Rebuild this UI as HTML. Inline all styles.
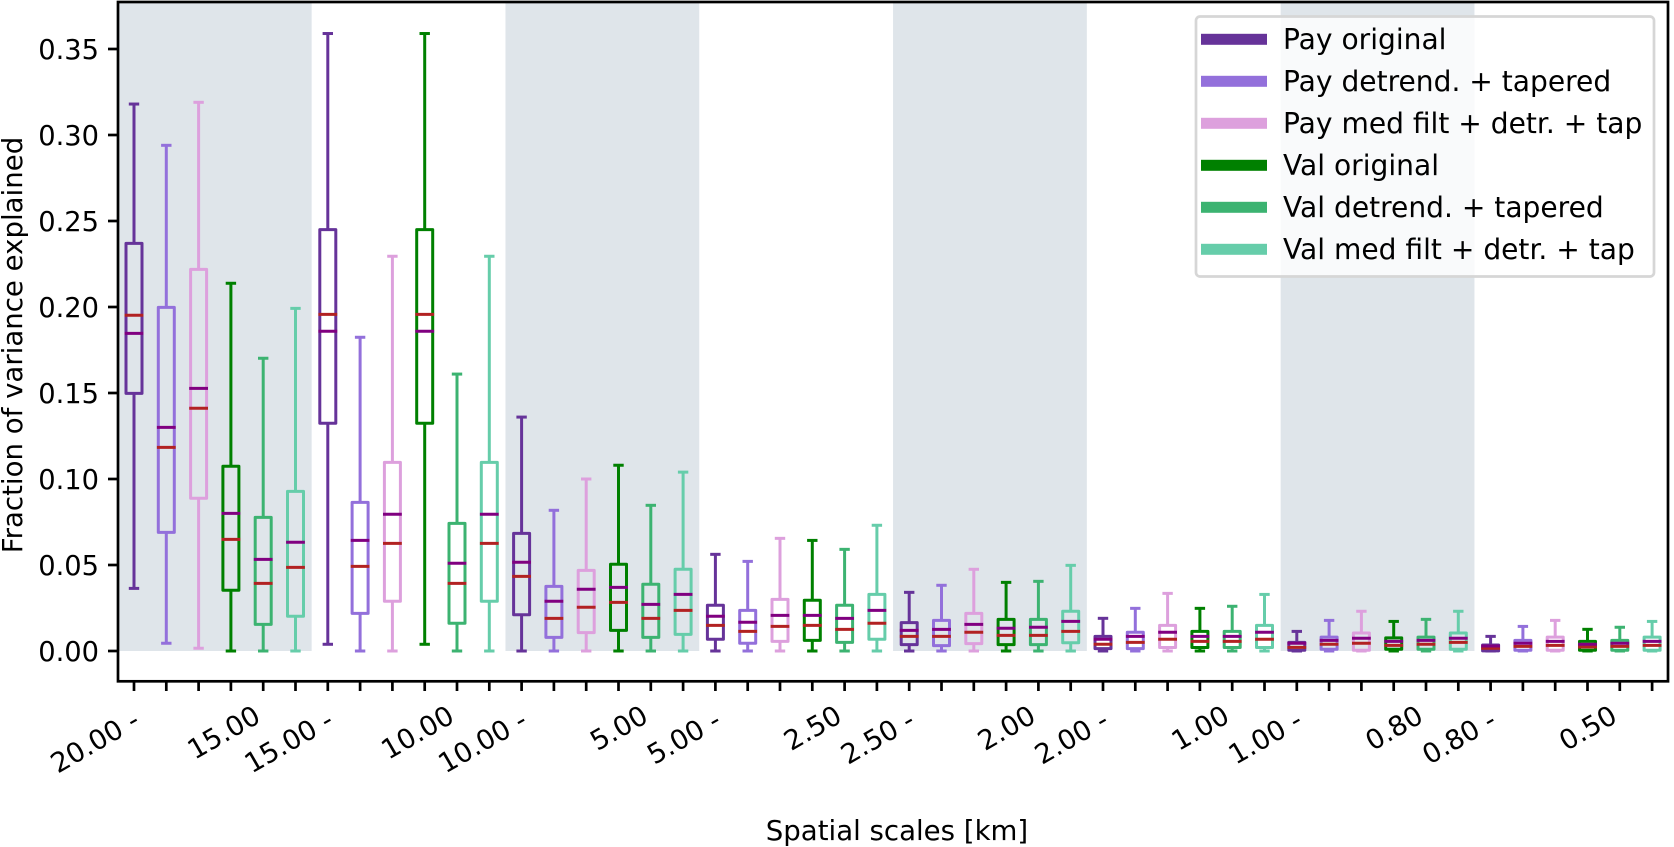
<!DOCTYPE html>
<html lang="en">
<head>
<meta charset="utf-8">
<title>Fraction of variance explained by spatial scale</title>
<style>
  html,body{margin:0;padding:0;background:#fff;}
  #chart{display:block;width:1674px;height:847px;}
  text{font-family:"DejaVu Sans","Liberation Sans",sans-serif;font-size:27.3px;fill:#000;}
  #legend text{font-size:28.1px;}
  .axis-title{font-size:27.6px;}
</style>
</head>
<body>
<svg id="chart" xmlns="http://www.w3.org/2000/svg" width="1674" height="847" viewBox="0 0 1674 847">
  <g id="bands"></g>
  <g id="boxes"></g>
  <g id="axes"></g>
  <g id="legend">
    <rect x="1196" y="16.5" width="458" height="260" rx="4" ry="4" fill="#ffffff" fill-opacity="0.8" stroke="#d6d6d6" stroke-width="2.7"></rect>
    <g>
      <rect x="1201" y="33.8" width="66" height="11" fill="#663399"></rect>
      <text x="1283" y="49">Pay original</text>
    </g>
    <g>
      <rect x="1201" y="75.8" width="66" height="11" fill="#9370DB"></rect>
      <text x="1283" y="91">Pay detrend. + tapered</text>
    </g>
    <g>
      <rect x="1201" y="117.8" width="66" height="11" fill="#DDA0DD"></rect>
      <text x="1283" y="133">Pay med filt + detr. + tap</text>
    </g>
    <g>
      <rect x="1201" y="159.8" width="66" height="11" fill="#008000"></rect>
      <text x="1283" y="175">Val original</text>
    </g>
    <g>
      <rect x="1201" y="201.8" width="66" height="11" fill="#3CB371"></rect>
      <text x="1283" y="217">Val detrend. + tapered</text>
    </g>
    <g>
      <rect x="1201" y="243.8" width="66" height="11" fill="#66CDAA"></rect>
      <text x="1283" y="259">Val med filt + detr. + tap</text>
    </g>
  </g>
  <text class="axis-title" x="897" y="840" text-anchor="middle">Spatial scales [km]</text>
  <text class="axis-title" transform="translate(22,345) rotate(-90)" text-anchor="middle">Fraction of variance explained</text>
</svg>
<script>
// Each row holds one scale band; each column one series, in legend order.
const seriesKeys = ['pay-original','pay-detrended','pay-median-filtered','val-original','val-detrended','val-median-filtered'];
const seriesColors = ['#663399','#9370DB','#DDA0DD','#008000','#3CB371','#66CDAA'];
const yTickValues = [0,0.05,0.10,0.15,0.20,0.25,0.30,0.35];
const scaleLabels = ['20.00 -','15.00','15.00 -','10.00','10.00 -','5.00','5.00 -','2.50','2.50 -','2.00','2.00 -','1.00','1.00 -','0.80','0.80 -','0.50'];

const whiskerLow = [
  .0364,.0045,.0016,0,0,0,
  .0039,0,0,.0039,0,0,
  0,0,0,0,0,0,
  0,0,0,0,0,0,
  0,0,0,0,0,0,
  0,0,0,0,0,0,
  0,0,0,0,0,0,
  0,0,0,0,0,0
];
const whiskerHigh = [
  .318,.294,.319,.2138,.1702,.1992,
  .359,.1824,.2295,.359,.161,.2295,
  .136,.0818,.100,.108,.0847,.104,
  .0562,.0521,.0655,.0643,.0591,.0731,
  .0341,.0382,.0475,.0399,.0405,.0498,
  .019,.0248,.0335,.0248,.026,.0329,
  .0114,.0178,.0231,.0172,.0184,.0231,
  .0085,.0143,.0178,.0126,.0138,.0172
];
const quartile1 = [
  .1498,.069,.0888,.0353,.0155,.0202,
  .1324,.0219,.0289,.1324,.0161,.0289,
  .0211,.0079,.0107,.012,.0079,.0097,
  .0068,.0045,.0056,.0062,.005,.0068,
  .0037,.0031,.0043,.0037,.0037,.0048,
  .0014,.0014,.002,.002,.002,.002,
  .0004,.001,.0004,.001,.001,.001,
  .0001,.0004,.0004,.0004,.0004,.0004
];
const quartile3 = [
  .237,.1998,.2219,.1074,.0777,.0928,
  .245,.0864,.1097,.245,.0742,.1097,
  .0684,.0376,.0469,.0504,.0388,.0475,
  .0266,.0236,.03,.0295,.0266,.0329,
  .0165,.0178,.0219,.0184,.0184,.0231,
  .0085,.0109,.0149,.0114,.0114,.0149,
  .005,.0081,.0105,.0076,.0081,.0105,
  .0035,.0062,.0081,.0056,.0062,.0081
];
const redLineValues = [
  .1952,.1184,.1411,.0649,.0393,.0486,
  .1957,.0492,.0626,.1957,.0393,.0626,
  .0434,.019,.0254,.0283,.019,.0236,
  .0149,.0114,.0143,.0149,.0126,.0161,
  .0085,.0085,.0109,.0091,.0091,.0114,
  .0039,.005,.0068,.0056,.0056,.0068,
  .0021,.0039,.0045,.0033,.0039,.005,
  .0016,.0027,.0033,.0023,.0027,.0033
];
const purpleLineValues = [
  .1847,.130,.1527,.080,.0533,.0632,
  .1859,.0643,.0795,.1859,.051,.0795,
  .0516,.0289,.0359,.037,.0271,.0329,
  .0202,.0167,.0207,.0207,.019,.0236,
  .012,.0126,.0155,.0132,.0138,.0172,
  .0068,.0085,.0109,.0085,.0085,.0109,
  .0045,.0062,.0074,.0056,.0062,.0074,
  .0029,.0045,.0056,.0039,.0045,.0056
];

const SVG_NS = 'http://www.w3.org/2000/svg';
const xScale = i => 134 + 32.3 * i;
const yScale = v => 651 - 1720 * v;
const LW = 3;

function add(parent, tag, attrs, txt) {
  const n = document.createElementNS(SVG_NS, tag);
  for (const k in attrs) n.setAttribute(k, attrs[k]);
  if (txt !== undefined) n.textContent = txt;
  parent.appendChild(n);
  return n;
}
function seg(parent, x1, y1, x2, y2, color, width) {
  return add(parent, 'line', {x1: x1, y1: y1, x2: x2, y2: y2, stroke: color, 'stroke-width': width || LW});
}

// background bands
const bandsG = document.getElementById('bands');
const groupCount = whiskerHigh.length / seriesKeys.length;
for (let g = 0; g < groupCount; g += 2) {
  const i0 = g * seriesKeys.length - 0.5;
  const i1 = i0 + seriesKeys.length;
  const band = add(bandsG, 'rect', {x: xScale(i0), y: yScale(0.378), width: xScale(i1) - xScale(i0), height: yScale(0) - yScale(0.378), fill: '#dfe5ea'});
  
  
}

// boxes
const boxesG = document.getElementById('boxes');
whiskerHigh.forEach((hi, i) => {
  const color = seriesColors[i % seriesColors.length];
  const x = xScale(i);
  const g = add(boxesG, 'g', {});
  
  
  const yLo = yScale(whiskerLow[i]), yHi = yScale(hi), yQ1 = yScale(quartile1[i]), yQ3 = yScale(quartile3[i]);
  seg(g, x, yQ3, x, yHi, color);
  seg(g, x, yQ1, x, yLo, color);
  seg(g, x - 5.2, yHi, x + 5.2, yHi, color);
  seg(g, x - 5.2, yLo, x + 5.2, yLo, color);
  add(g, 'rect', {x: x - 8, y: yQ3, width: 16, height: yQ1 - yQ3, fill: 'none', stroke: color, 'stroke-width': LW, 'stroke-linejoin': 'round'});
  seg(g, x - 9.4, yScale(redLineValues[i]), x + 9.4, yScale(redLineValues[i]), '#B22222');
  seg(g, x - 9.4, yScale(purpleLineValues[i]), x + 9.4, yScale(purpleLineValues[i]), '#800080');
});

// axes
const axesG = document.getElementById('axes');
const frame = add(axesG, 'rect', {x: 118, y: 2, width: 1550, height: 679.3, fill: 'none', stroke: '#000', 'stroke-width': 2.7});



yTickValues.forEach(v => {
  const y = yScale(v);
  const t = seg(axesG, 108, y, 118, y, '#000', 2.7);
  
  
  const l = add(axesG, 'text', {x: 99, y: y + 10, 'text-anchor': 'end'}, v.toFixed(2));
  
  
});

for (let i = 0; i < whiskerHigh.length; i++) {
  const t = seg(axesG, xScale(i), 681, xScale(i), 691, '#000', 2.7);
  
  
}
scaleLabels.forEach((s, k) => {
  const isStart = k % 2 === 0;
  const tickIndex = isStart ? k * 3 : (k - 1) * 3 + 3;
  const ax = xScale(tickIndex) + (isStart ? 7.5 : 31.4);
  const ay = isStart ? 725.5 : 721;
  const l = add(axesG, 'text', {x: 0, y: 0, 'text-anchor': 'end', transform: 'translate(' + ax + ',' + ay + ') rotate(-30)'}, s);
  
  
});
</script>
</body>
</html>
